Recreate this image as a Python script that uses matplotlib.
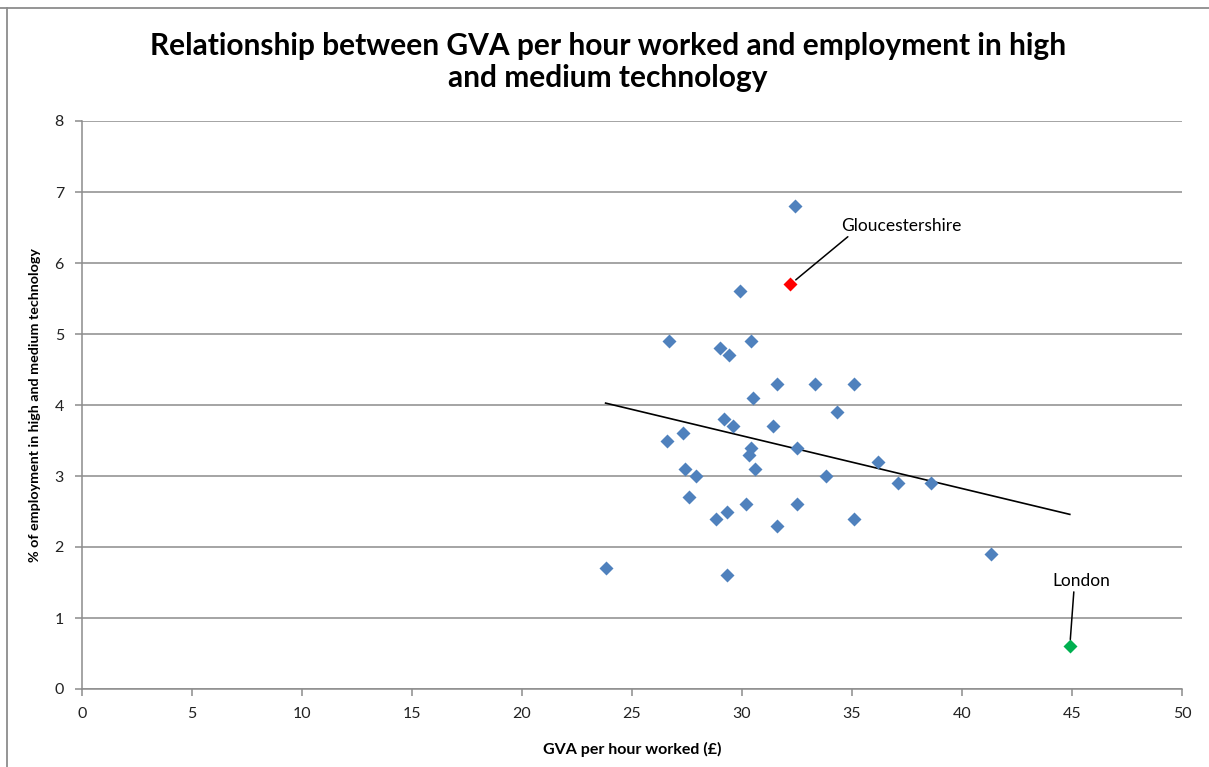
import matplotlib.pyplot as plt
import numpy as np
from matplotlib.lines import Line2D

# GVA por hora trabajada (£) y % de empleo en alta y media tecnología
gva = [23.8, 26.6, 26.7, 27.3, 27.4, 27.6, 27.9, 28.8, 29.0, 29.2, 29.3, 29.3,
       29.4, 29.6, 29.9, 30.2, 30.3, 30.4, 30.4, 30.5, 30.6, 31.4, 31.6, 31.6,
       32.4, 32.5, 32.5, 33.3, 33.8, 34.3, 35.1, 35.1, 36.2, 37.1, 38.6, 41.3]
empleo = [1.7, 3.5, 4.9, 3.6, 3.1, 2.7, 3.0, 2.4, 4.8, 3.8, 2.5, 1.6,
          4.7, 3.7, 5.6, 2.6, 3.3, 3.4, 4.9, 4.1, 3.1, 3.7, 4.3, 2.3,
          6.8, 3.4, 2.6, 4.3, 3.0, 3.9, 4.3, 2.4, 3.2, 2.9, 2.9, 1.9]

# Puntos destacados
glos_x, glos_y = 32.2, 5.7
london_x, london_y = 44.9, 0.6

x_ticks = [0, 5, 10, 15, 20, 25, 30, 35, 40, 45, 50]
y_ticks = [0, 1, 2, 3, 4, 5, 6, 7, 8]

plt.rcParams['font.family'] = ['Lato', 'DejaVu Sans']

fig = plt.figure(figsize=(12.09, 7.67), dpi=100)
ax = fig.add_axes([82 / 1209, 1 - 689 / 767, 1100 / 1209, 568 / 767])

# Línea de tendencia lineal sobre todos los puntos
todos_x = np.array(gva + [glos_x, london_x])
todos_y = np.array(empleo + [glos_y, london_y])
m, b = np.polyfit(todos_x, todos_y, 1)
xt = np.array([todos_x.min(), todos_x.max()])
ax.plot(xt, m * xt + b, color='black', lw=1.2, zorder=2)

# Puntos
ax.plot(gva, empleo, 'D', color='#4F81BD', ms=7.5, mec='none', zorder=3)
ax.plot([glos_x], [glos_y], 'D', color='#FF0000', ms=7.5, mec='none', zorder=3)
ax.plot([london_x], [london_y], 'D', color='#00B050', ms=7.5, mec='none', zorder=3)

# Etiquetas de los puntos destacados
ax.annotate('Gloucestershire', (glos_x, glos_y), xytext=(80, 42), textcoords='offset points',
            ha='center', va='center', fontsize=12.5,
            arrowprops=dict(arrowstyle='-', color='black', lw=1.1, relpos=(0.09, 0.05),
                            shrinkA=0, shrinkB=5))
ax.annotate('London', (london_x, london_y), xytext=(8.5, 47), textcoords='offset points',
            ha='center', va='center', fontsize=12.5,
            arrowprops=dict(arrowstyle='-', color='black', lw=1.1, relpos=(0.37, 0.05),
                            shrinkA=0, shrinkB=5))

# Ejes
ax.set_xlim(0, 50)
ax.set_ylim(0, 8)
ax.set_xticks(x_ticks)
ax.set_yticks(y_ticks)
ax.yaxis.grid(True, color='#8C8C8C', lw=1.1)
ax.set_axisbelow(True)
for lado in ['top', 'right']:
    ax.spines[lado].set_visible(False)
for lado in ['left', 'bottom']:
    ax.spines[lado].set_color('#8C8C8C')
    ax.spines[lado].set_linewidth(1.1)
ax.tick_params(axis='both', direction='out', length=5, width=1.1, color='#8C8C8C',
               labelsize=11.5, labelcolor='#222222', pad=8)

ax.set_xlabel('GVA per hour worked (£)', fontsize=11.5, fontweight='bold', labelpad=15)
ax.set_ylabel('% of employment in high and medium technology', fontsize=10.3,
              fontweight='bold', labelpad=10)

# Título
fig.text(0.503, 1 - 62 / 767, 'Relationship between GVA per hour worked and employment in high\nand medium technology',
         ha='center', va='center', fontsize=21.5, fontweight='bold', linespacing=1.2)

# Marco del gráfico
fig.add_artist(Line2D([0, 1], [1 - 8 / 767, 1 - 8 / 767], color='#8C8C8C', lw=1.3))
fig.add_artist(Line2D([7 / 1209, 7 / 1209], [0, 1 - 8 / 767], color='#8C8C8C', lw=1.3))

fig.savefig('out.png', dpi=100)
